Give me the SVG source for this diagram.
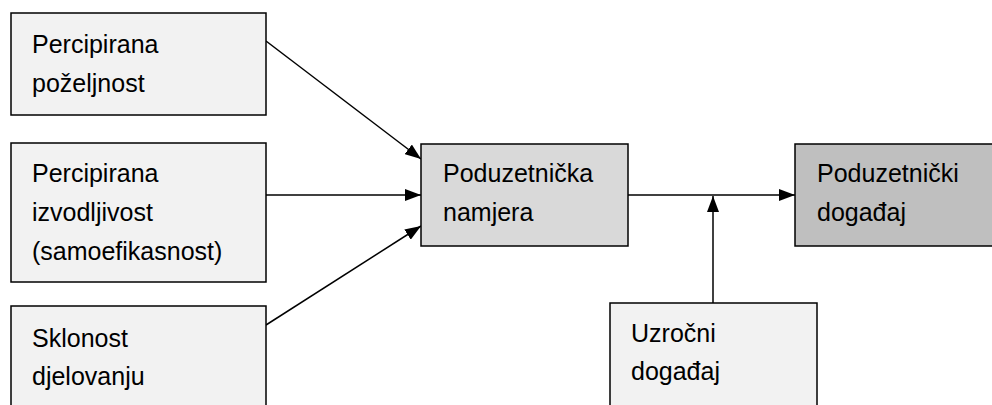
<svg xmlns="http://www.w3.org/2000/svg" width="992" height="405" viewBox="0 0 992 405">
<defs>
<marker id="ah" markerWidth="16" markerHeight="12" refX="16" refY="6" orient="auto" markerUnits="userSpaceOnUse">
<path d="M0,0 L16,6 L0,12 Z" fill="#000"/>
</marker>
<style>
.box{stroke:#000;stroke-width:1.5}
.light{fill:#f2f2f2}
.mid{fill:#d9d9d9}
.dark{fill:#bfbfbf}
text{font-family:"Liberation Sans",Arial,sans-serif;font-size:25px;fill:#000}
.conn{stroke:#000;stroke-width:1.5;fill:none}
</style>
</defs>
<rect width="992" height="405" fill="#fff"/>
<g id="connectors">
<line class="conn" x1="266" y1="41" x2="421" y2="159" marker-end="url(#ah)"/>
<line class="conn" x1="266" y1="195" x2="421" y2="195" marker-end="url(#ah)"/>
<line class="conn" x1="266" y1="325" x2="421" y2="226" marker-end="url(#ah)"/>
<line class="conn" x1="628" y1="195" x2="795" y2="195" marker-end="url(#ah)"/>
<line class="conn" x1="713" y1="303" x2="713" y2="196" marker-end="url(#ah)"/>
</g>
<g id="node-pozeljnost">
<rect class="box light" x="11" y="13" width="255" height="102"/>
<text x="32" y="53">Percipirana</text>
<text x="32" y="92">poželjnost</text>
</g>
<g id="node-izvodljivost">
<rect class="box light" x="11" y="143" width="255" height="139"/>
<text x="32" y="182">Percipirana</text>
<text x="32" y="221">izvodljivost</text>
<text x="32" y="260">(samoefikasnost)</text>
</g>
<g id="node-sklonost">
<rect class="box light" x="11" y="306" width="255" height="110"/>
<text x="32" y="347">Sklonost</text>
<text x="32" y="385">djelovanju</text>
</g>
<g id="node-namjera">
<rect class="box mid" x="421" y="144" width="207" height="102"/>
<text x="443" y="182">Poduzetnička</text>
<text x="443" y="221">namjera</text>
</g>
<g id="node-dogadaj">
<rect class="box dark" x="795" y="144" width="210" height="102"/>
<text x="817" y="182">Poduzetnički</text>
<text x="817" y="221">događaj</text>
</g>
<g id="node-uzrocni">
<rect class="box light" x="610" y="303" width="207" height="115"/>
<text x="631" y="342">Uzročni</text>
<text x="631" y="380">događaj</text>
</g>
</svg>
